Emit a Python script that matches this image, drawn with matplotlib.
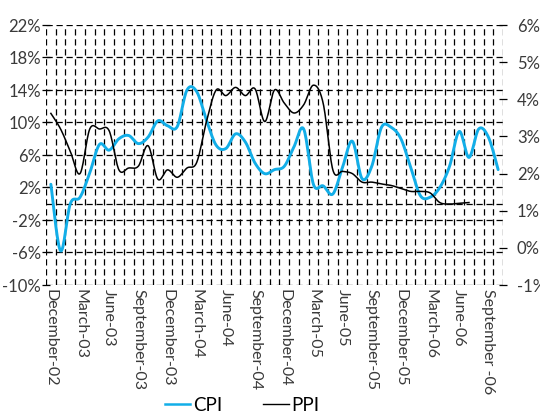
import numpy as np
import matplotlib
matplotlib.use("Agg")
import matplotlib.pyplot as plt
from matplotlib.lines import Line2D

# ---------------- data ----------------
months = ["Dec-02", "Jan-03", "Feb-03", "Mar-03", "Apr-03", "May-03", "Jun-03", "Jul-03", "Aug-03",
          "Sep-03", "Oct-03", "Nov-03", "Dec-03", "Jan-04", "Feb-04", "Mar-04", "Apr-04", "May-04",
          "Jun-04", "Jul-04", "Aug-04", "Sep-04", "Oct-04", "Nov-04", "Dec-04", "Jan-05", "Feb-05",
          "Mar-05", "Apr-05", "May-05", "Jun-05", "Jul-05", "Aug-05", "Sep-05", "Oct-05", "Nov-05",
          "Dec-05", "Jan-06", "Feb-06", "Mar-06", "Apr-06", "May-06", "Jun-06", "Jul-06", "Aug-06",
          "Sep-06", "Oct-06"]

cpi = [2.4, -5.8, 0.0, 0.8, 3.8, 7.3, 6.6, 8.0, 8.4, 7.4,
       8.2, 10.2, 9.6, 9.5, 14.0, 13.8, 10.3, 7.2, 6.8, 8.6,
       7.6, 5.0, 3.7, 4.2, 4.6, 7.0, 9.2, 2.4, 2.2, 1.2,
       4.5, 7.7, 3.1, 4.6, 9.4, 9.4, 8.0, 4.5, 1.0, 0.8,
       2.0, 4.6, 8.9, 5.7, 9.2, 8.2, 4.2]

ppi = [3.62, 3.2, 2.6, 2.0, 3.2, 3.2, 3.15, 2.1, 2.15, 2.2,
       2.75, 1.85, 2.1, 1.9, 2.15, 2.3, 3.4, 4.25, 4.1, 4.32,
       4.1, 4.28, 3.4, 4.25, 3.9, 3.63, 3.85, 4.38, 3.9, 2.1,
       2.06, 2.0, 1.77, 1.77, 1.72, 1.68, 1.6, 1.52, 1.52, 1.48,
       1.22, 1.18, 1.2, 1.22]

tick_labels = ["December-02", "March-03", "June-03", "September-03", "December-03", "March-04",
               "June-04", "September-04", "December-04", "March-05", "June-05", "September-05",
               "December-05", "March-06", "June-06", "September -06"]

left_ticks = [-10, -6, -2, 2, 6, 10, 14, 18, 22]
right_ticks = [-1, 0, 1, 2, 3, 4, 5, 6]

CYAN = "#12AEE8"
TXT = "#3a3a3a"
FONT = ["Lato", "DejaVu Sans"]
plt.rcParams["font.family"] = FONT


def smooth(y, n=16):
    """Excel-like smoothed line (Bezier through the points)."""
    y = np.asarray(y, float)
    x = np.arange(len(y), dtype=float)
    P = np.column_stack([x, y])
    out = [P[0]]
    t = np.linspace(0, 1, n + 1)[1:]
    for i in range(len(P) - 1):
        p0 = P[i - 1] if i > 0 else P[i]
        p1, p2 = P[i], P[i + 1]
        p3 = P[i + 2] if i + 2 < len(P) else P[i + 1]
        c1 = p1 + (p2 - p0) / 6.0
        c2 = p2 - (p3 - p1) / 6.0
        for tt in t:
            b = ((1 - tt) ** 3) * p1 + 3 * ((1 - tt) ** 2) * tt * c1 + 3 * (1 - tt) * tt ** 2 * c2 + tt ** 3 * p2
            out.append(b)
    out = np.array(out)
    return out[:, 0], out[:, 1]


fig = plt.figure(figsize=(5.4, 4.15), dpi=100)
ax = fig.add_axes([46 / 540, 1 - 285 / 415, (503 - 46) / 540, (285 - 25) / 415])
ax2 = ax.twinx()

n = len(months)
ax.set_xlim(-0.5, n - 0.5)
ax.set_ylim(-10, 22)
ax2.set_ylim(-1, 6)

dash = (0, (5, 3))
# vertical grid at month boundaries
ax.set_xticks(np.arange(-0.5, n, 1.0), minor=True)
ax.grid(True, which="minor", axis="x", color="black", lw=0.9, linestyle=dash)
ax.set_yticks(left_ticks)
ax.grid(True, which="major", axis="y", color="black", lw=0.9, linestyle=dash)
ax.axhline(0, color="black", lw=0.9, linestyle=dash, zorder=1)

for sp in ax.spines.values():
    sp.set_visible(False)
for sp in ax2.spines.values():
    sp.set_visible(False)

ax.set_xticks(np.arange(0, n, 3))
ax.set_xticklabels(tick_labels, rotation=-90, va="top", ha="center", color=TXT, fontsize=11.5)
ax.tick_params(axis="x", which="both", length=0, pad=3)
ax.set_yticklabels([f"{v}%" for v in left_ticks], color=TXT, fontsize=12)
ax.tick_params(axis="y", direction="inout", length=6, width=0.9, pad=0.5)

ax2.set_yticks(right_ticks)
ax2.set_yticklabels([f"{v}%" for v in right_ticks], color=TXT, fontsize=12)
ax2.tick_params(axis="y", direction="inout", length=6, width=0.9, pad=7)

xs, ys = smooth(cpi)
ax.plot(xs, ys, color=CYAN, lw=2.1, solid_capstyle="round", zorder=3)
xp, yp = smooth(ppi)
ax2.plot(xp, yp, color="black", lw=1.1, zorder=3)

handles = [Line2D([], [], color=CYAN, lw=1.8), Line2D([], [], color="black", lw=1.0)]
fig.legend(handles, ["CPI", "PPI"], loc="center", bbox_to_anchor=(242 / 540, 1 - 405 / 415), ncol=2,
           frameon=False, fontsize=13.5, handlelength=1.35, handletextpad=0.15, columnspacing=2.2,
           labelcolor="black", borderpad=0, borderaxespad=0)

fig.savefig("out.png", dpi=100)
